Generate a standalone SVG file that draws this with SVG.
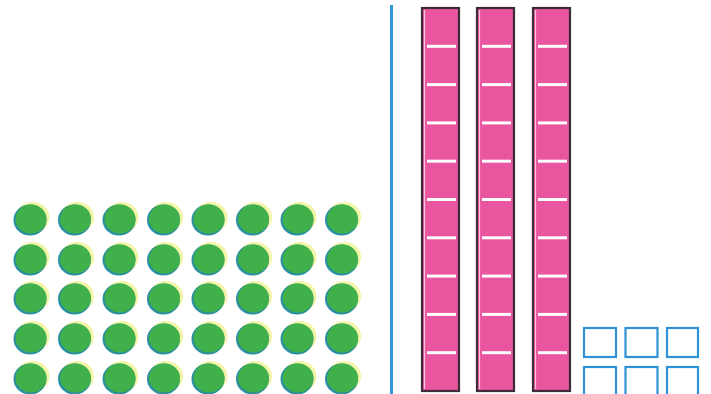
<svg xmlns="http://www.w3.org/2000/svg" xmlns:xlink="http://www.w3.org/1999/xlink" width="711" height="394" viewBox="0 0 711 394">
<style>
.bar{fill:#e9559e;stroke:#3d2c38;stroke-width:2.2}
.tick{stroke:#ffffff;stroke-width:3}
.edge{stroke:#f7c6dd;stroke-width:1.2}
.sq{fill:none;stroke:#2e92d6;stroke-width:2.2}
</style>
<defs>
<g id="dot">
<ellipse cx="1.5" cy="-1.5" rx="17" ry="15.5" fill="#f3f5a6"/>
<ellipse cx="-1" cy="1" rx="16.5" ry="15.5" fill="#2a8fa0"/>
<ellipse cx="0" cy="0" rx="15.5" ry="14.5" fill="#3fb04a"/>
</g>
</defs>
<rect width="711" height="394" fill="#ffffff"/>
<g id="dots">
<g id="r1"><use href="#dot" x="31" y="219"/><use href="#dot" x="75.5" y="219"/><use href="#dot" x="120" y="219"/><use href="#dot" x="164.5" y="219"/><use href="#dot" x="209" y="219"/><use href="#dot" x="253.5" y="219"/><use href="#dot" x="298" y="219"/><use href="#dot" x="342.5" y="219"/></g>
<g id="r2"><use href="#dot" x="31" y="259"/><use href="#dot" x="75.5" y="259"/><use href="#dot" x="120" y="259"/><use href="#dot" x="164.5" y="259"/><use href="#dot" x="209" y="259"/><use href="#dot" x="253.5" y="259"/><use href="#dot" x="298" y="259"/><use href="#dot" x="342.5" y="259"/></g>
<g id="r3"><use href="#dot" x="31" y="298"/><use href="#dot" x="75.5" y="298"/><use href="#dot" x="120" y="298"/><use href="#dot" x="164.5" y="298"/><use href="#dot" x="209" y="298"/><use href="#dot" x="253.5" y="298"/><use href="#dot" x="298" y="298"/><use href="#dot" x="342.5" y="298"/></g>
<g id="r4"><use href="#dot" x="31" y="338"/><use href="#dot" x="75.5" y="338"/><use href="#dot" x="120" y="338"/><use href="#dot" x="164.5" y="338"/><use href="#dot" x="209" y="338"/><use href="#dot" x="253.5" y="338"/><use href="#dot" x="298" y="338"/><use href="#dot" x="342.5" y="338"/></g>
<g id="r5"><use href="#dot" x="31" y="378"/><use href="#dot" x="75.5" y="378"/><use href="#dot" x="120" y="378"/><use href="#dot" x="164.5" y="378"/><use href="#dot" x="209" y="378"/><use href="#dot" x="253.5" y="378"/><use href="#dot" x="298" y="378"/><use href="#dot" x="342.5" y="378"/></g>
</g>
<g id="divider"><line x1="391.5" y1="5" x2="391.5" y2="394" stroke="#2e98d8" stroke-width="3"/></g>
<defs>
<g id="tenbar">
<rect class="bar" x="0" y="0" width="37" height="383"/>
<line class="edge" x1="2.5" y1="2" x2="2.5" y2="381"/>
<g class="tick">
<line x1="5" y1="38.3" x2="34" y2="38.3"/>
<line x1="5" y1="76.6" x2="34" y2="76.6"/>
<line x1="5" y1="114.9" x2="34" y2="114.9"/>
<line x1="5" y1="153.2" x2="34" y2="153.2"/>
<line x1="5" y1="191.5" x2="34" y2="191.5"/>
<line x1="5" y1="229.8" x2="34" y2="229.8"/>
<line x1="5" y1="268.1" x2="34" y2="268.1"/>
<line x1="5" y1="306.4" x2="34" y2="306.4"/>
<line x1="5" y1="344.7" x2="34" y2="344.7"/>
</g>
</g>
</defs>
<g id="bar1"><use href="#tenbar" x="422" y="8"/></g>
<g id="bar2"><use href="#tenbar" x="477" y="8"/></g>
<g id="bar3"><use href="#tenbar" x="533" y="8"/></g>
<g id="units">
<rect class="sq" x="584" y="328" width="32" height="29"/>
<rect class="sq" x="625.5" y="328" width="32" height="29"/>
<rect class="sq" x="667" y="328" width="31" height="29"/>
<rect class="sq" x="584" y="367" width="32" height="29"/>
<rect class="sq" x="625.5" y="367" width="32" height="29"/>
<rect class="sq" x="667" y="367" width="31" height="29"/>
</g>
</svg>
